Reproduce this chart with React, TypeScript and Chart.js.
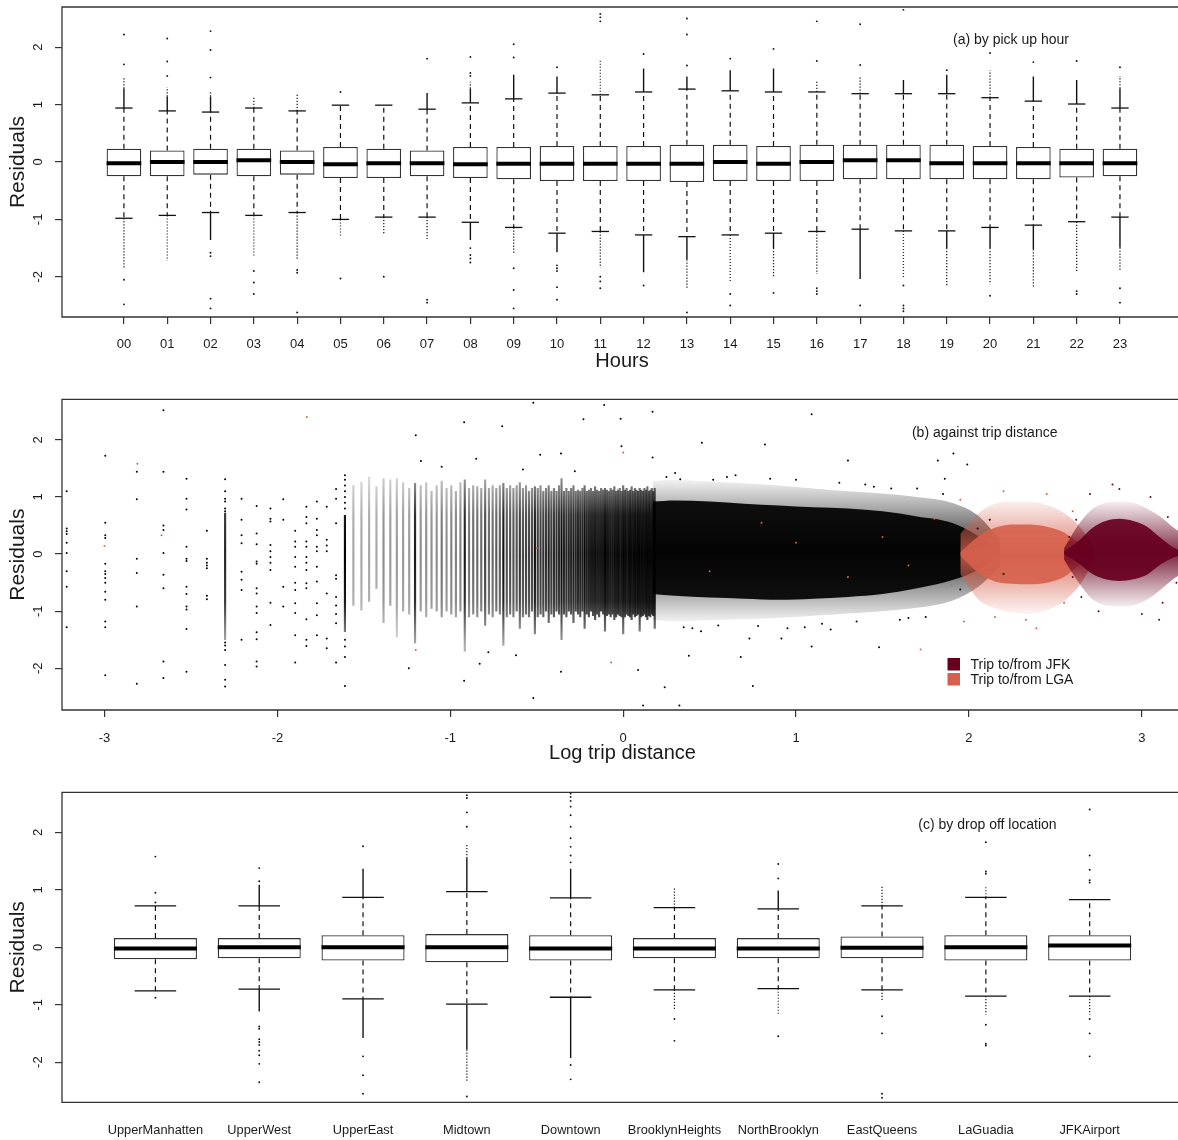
import React, { useEffect, useRef } from 'react';
import { Chart, registerables } from 'chart.js';

Chart.register(...registerables);

const FONT_FAMILY = '"Liberation Sans", Arial, Helvetica, sans-serif';
const INK = '#1a1a1a';
const FRAME = '#333333';
const WIDTH = 1178;
const JFK_COLOR = '#67001F';
const LGA_COLOR = '#D6604D';
const BLACK_RGB = '0,0,0';
const LGA_RGB = '214,96,77';
const JFK_RGB = '103,0,31';

const residualTicks = [-2, -1, 0, 1, 2];

// ---------------- (a) by pick up hour ----------------
const hourLabels = ['00','01','02','03','04','05','06','07','08','09','10','11','12','13','14','15','16','17','18','19','20','21','22','23'];
const hourLow = [-0.98,-0.93,-0.88,-0.93,-0.88,-1.00,-0.96,-0.96,-1.05,-1.14,-1.24,-1.21,-1.27,-1.30,-1.27,-1.24,-1.21,-1.17,-1.20,-1.20,-1.14,-1.10,-1.04,-0.96];
const hourQ1 = [-0.25,-0.25,-0.22,-0.25,-0.22,-0.28,-0.28,-0.25,-0.28,-0.30,-0.33,-0.33,-0.33,-0.35,-0.33,-0.33,-0.33,-0.30,-0.30,-0.30,-0.30,-0.30,-0.27,-0.25];
const hourMedian = [-0.02,0.00,0.00,0.03,0.00,-0.04,-0.02,-0.02,-0.04,-0.03,-0.03,-0.03,-0.03,-0.03,0.00,-0.03,0.00,0.03,0.03,-0.02,-0.02,-0.02,-0.02,-0.02];
const hourQ3 = [0.23,0.20,0.23,0.23,0.20,0.26,0.23,0.20,0.26,0.26,0.28,0.28,0.28,0.30,0.30,0.28,0.30,0.30,0.30,0.30,0.28,0.26,0.23,0.23];
const hourHigh = [0.94,0.89,0.87,0.94,0.89,0.99,0.99,0.92,1.03,1.10,1.20,1.17,1.22,1.27,1.24,1.22,1.22,1.19,1.19,1.19,1.12,1.06,1.01,0.94];
const hourUpSolid = [1.28,1.14,1.14,0.94,0.89,0.99,0.99,1.20,1.28,1.52,1.49,1.17,1.63,1.49,1.60,1.63,1.22,1.19,1.43,1.52,1.12,1.49,1.43,1.28];
const hourUpDotted = [1.47,1.30,1.23,1.12,1.18,0.99,0.99,1.20,1.40,1.52,1.49,1.78,1.63,1.49,1.60,1.63,1.40,1.49,1.43,1.52,1.60,1.49,1.43,1.50];
const hourDownSolid = [-0.98,-0.93,-1.36,-0.93,-0.88,-1.00,-0.96,-0.96,-1.36,-1.14,-1.57,-1.21,-1.92,-1.70,-1.27,-1.50,-1.21,-2.04,-1.20,-1.50,-1.50,-1.52,-1.04,-1.49];
const hourDownDotted = [-1.85,-1.72,-1.36,-1.66,-1.69,-1.28,-1.27,-1.34,-1.36,-1.60,-1.57,-1.84,-1.92,-2.19,-2.10,-2.00,-1.95,-2.04,-2.01,-2.16,-2.13,-2.19,-1.90,-1.90];
const hourOutliers = [
  [1.70, 2.22, -2.05, -2.48],
  [1.50, 1.75, 2.15],
  [1.47, 1.95, 2.28, -1.58, -1.64, -2.38, -2.55],
  [-1.90, -2.10, -2.30],
  [-1.88, -1.93, -2.62],
  [1.22, -2.03],
  [-2.00],
  [1.80, -2.40, -2.45],
  [1.50, 1.55, 1.83, -1.50, -1.62, -1.68, -1.75],
  [1.82, 2.05, -1.85, -2.23, -2.55],
  [1.65, -1.80, -1.85, -1.90, -2.18, -2.40],
  [2.45, 2.52, 2.58, -2.00, -2.08, -2.20],
  [1.88, -2.15],
  [1.68, 2.22, 2.50, -2.62],
  [1.80, -2.30, -2.50],
  [1.97, -2.28],
  [1.76, 2.45, -2.20, -2.25, -2.30],
  [1.69, 2.40, -2.50],
  [2.65, -2.15, -2.50, -2.55, -2.60],
  [1.60],
  [1.90, -2.33],
  [1.74],
  [1.76, -2.25, -2.30],
  [1.65, -2.20, -2.45],
];

// ---------------- (c) by drop off location ----------------
const zoneLabels = ['UpperManhatten','UpperWest','UpperEast','Midtown','Downtown','BrooklynHeights','NorthBrooklyn','EastQueens','LaGuadia','JFKAirport'];
const zoneLow = [-0.76,-0.73,-0.90,-0.99,-0.87,-0.74,-0.72,-0.74,-0.85,-0.85];
const zoneQ1 = [-0.21,-0.19,-0.23,-0.26,-0.23,-0.19,-0.19,-0.19,-0.23,-0.23];
const zoneMedian = [-0.02,0.00,0.00,0.00,-0.02,-0.02,-0.02,-0.01,0.00,0.03];
const zoneQ3 = [0.16,0.16,0.21,0.23,0.21,0.16,0.16,0.19,0.21,0.21];
const zoneHigh = [0.72,0.72,0.87,0.97,0.86,0.69,0.67,0.72,0.87,0.83];
const zoneUpSolid = [0.72,1.09,1.37,1.55,1.37,0.69,0.99,0.72,0.87,0.83];
const zoneUpDotted = [0.72,1.09,1.37,1.80,1.37,1.05,0.99,1.07,1.05,0.83];
const zoneDownSolid = [-0.76,-1.12,-1.58,-1.78,-1.93,-0.74,-0.72,-0.74,-0.85,-0.85];
const zoneDownDotted = [-0.76,-1.12,-1.58,-2.34,-1.93,-1.10,-1.17,-0.93,-1.17,-1.17];
const zoneOutliers = [
  [0.78, 0.95, 1.58, -0.88],
  [1.15, 1.38, -1.38, -1.42, -1.60, -1.65, -1.70, -1.80, -1.88, -2.03, -2.35],
  [1.76, -1.90, -2.23, -2.55],
  [2.10, 2.35, 2.60, 2.65, -2.60],
  [1.48, 1.60, 1.75, 1.90, 2.10, 2.30, 2.45, 2.55, 2.62, 2.68, -2.05, -2.30],
  [-1.25, -1.63],
  [1.20, 1.45, -1.55],
  [-1.20, -1.50, -2.55, -2.62],
  [1.28, 1.32, 1.83, -1.35, -1.68, -1.71],
  [1.13, 1.17, 1.35, 1.60, 2.40, -1.25, -1.50, -1.90],
];

// ---------------- (b) against trip distance ----------------
const distanceTicks = [-3, -2, -1, 0, 1, 2, 3];
// sparse short trips (miles) and the residuals seen in each column
const sparseMiles = [0.04,0.05,0.06,0.07,0.08,0.09,0.10,0.11,0.12,0.13,0.14,0.15,0.16,0.17,0.18,0.19,0.20];
const sparseResiduals = [
  [1.10,0.45,0.40,0.35,0.20,0.02,-0.30,-0.57,-1.28],
  [1.72,0.55,0.33,0.28,-0.17,-0.30,-0.35,-0.42,-0.50,-0.66,-0.80,-1.18,-1.28,-2.12],
  [1.44,0.96,-0.08,-0.33,-0.92,-2.27],
  [2.52,1.44,0.50,0.42,0.02,-0.36,-0.60,-1.88,-2.17],
  [1.32,0.97,0.78,0.13,-0.08,-0.12,-0.57,-0.70,-0.92,-0.97,-1.31,-2.06],
  [0.41,-0.08,-0.15,-0.20,-0.25,-0.73,-0.79],
  [1.31,1.10,0.97,0.92,0.80,0.75,-1.55,-1.60,-1.68,-1.94,-2.20,-2.32],
  [0.97,0.60,0.33,0.19,-0.31,-0.45,-0.63,-1.50],
  [0.84,0.36,0.17,-0.13,-0.17,-0.60,-0.69,-0.92,-1.03,-1.37,-1.49,-1.88,-1.97],
  [0.80,0.62,0.57,0.16,0.05,-0.05,-0.15,-0.28,-0.85,-1.24],
  [0.96,0.60,-0.57,-0.92],
  [0.41,0.22,0.13,-0.05,-0.22,-0.50,-0.63,-0.86,-1.03,-1.42,-1.90],
  [0.83,0.65,0.54,0.22,0.13,-0.05,-0.15,-0.28,-0.51,-0.60,-1.14,-1.50,-1.61],
  [0.92,0.62,0.42,0.33,0.13,0.05,-0.22,-0.48,-0.86,-1.07,-1.42],
  [0.83,0.25,0.15,0.05,-0.69,-1.48,-1.65],
  [1.14,0.97,0.54,-0.37,-0.43,-0.75,-0.90,-1.05,-1.21,-1.90],
  [1.38,1.30,1.20,1.10,1.00,0.90,0.80,-1.50,-1.62,-1.80,-2.31],
];
// dense columns of recorded distances (miles): residual range and darkness
const columnMiles = [
  0.10, 0.20,
  0.21,0.22,0.23,0.24,0.25,0.26,0.27,0.28,0.29,0.30,
  0.31,0.32,0.33,0.34,0.35,0.36,0.37,0.38,0.39,0.40,
  0.41,0.42,0.43,0.44,0.45,0.46,0.47,0.48,0.49,0.50,
  0.51,0.52,0.53,0.54,0.55,0.56,0.57,0.58,0.59,0.60,
  0.61,0.62,0.63,0.64,0.65,0.66,0.67,0.68,0.69,0.70,
  0.71,0.72,0.73,0.74,0.75,0.76,0.77,0.78,0.79,0.80,
  0.81,0.82,0.83,0.84,0.85,0.86,0.87,0.88,0.89,0.90,
  0.91,0.92,0.93,0.94,0.95,0.96,0.97,0.98,0.99,1.00,
  1.01,1.02,1.03,1.04,1.05,1.06,1.07,1.08,1.09,1.10,
  1.11,1.12,1.13,1.14,1.15,1.16,1.17,1.18,1.19,1.20,
];
const columnLow = [
  -1.50, -1.36,
  -0.90,-0.98,-0.83,-0.60,-1.20,-0.90,-1.45,-1.00,-1.05,-1.56,
  -1.00,-1.10,-0.95,-1.00,-1.10,-1.00,-1.05,-1.10,-1.00,-1.70,
  -1.10,-1.05,-1.10,-1.00,-1.25,-1.05,-1.10,-1.00,-1.05,-1.60,
  -1.10,-1.05,-1.10,-1.00,-1.30,-1.10,-1.05,-1.10,-1.00,-1.40,
  -1.10,-1.05,-1.10,-1.00,-1.20,-1.05,-1.10,-1.00,-1.05,-1.50,
  -1.05,-1.10,-1.00,-1.05,-1.20,-1.00,-1.05,-1.10,-1.00,-1.30,
  -1.05,-1.10,-1.00,-1.08,-1.15,-1.05,-1.10,-1.00,-1.05,-1.35,
  -1.08,-1.05,-1.10,-1.05,-1.15,-1.10,-1.05,-1.08,-1.10,-1.40,
  -1.10,-1.05,-1.08,-1.10,-1.15,-1.05,-1.10,-1.08,-1.05,-1.35,
  -1.10,-1.08,-1.05,-1.10,-1.15,-1.08,-1.10,-1.05,-1.08,-1.30,
];
const columnHigh = [
  0.72, 0.68,
  1.20,1.26,1.35,1.18,1.32,1.30,1.32,1.25,1.15,1.24,
  1.20,1.25,1.10,1.20,1.28,1.15,1.20,1.10,1.25,1.30,
  1.15,1.20,1.18,1.15,1.30,1.15,1.20,1.15,1.20,1.24,
  1.15,1.20,1.15,1.20,1.25,1.15,1.20,1.10,1.15,1.18,
  1.15,1.20,1.10,1.15,1.20,1.10,1.15,1.10,1.20,1.32,
  1.10,1.15,1.10,1.15,1.20,1.10,1.12,1.10,1.15,1.20,
  1.10,1.12,1.15,1.10,1.18,1.12,1.10,1.15,1.12,1.15,
  1.12,1.10,1.15,1.12,1.18,1.10,1.12,1.15,1.10,1.20,
  1.12,1.15,1.10,1.12,1.18,1.10,1.15,1.12,1.10,1.15,
  1.12,1.10,1.15,1.12,1.18,1.10,1.12,1.15,1.10,1.15,
];
const columnShade = [
  0.85, 1.00,
  0.35,0.35,0.35,0.35,0.45,0.40,0.40,0.40,0.40,0.90,
  0.45,0.45,0.45,0.45,0.55,0.45,0.50,0.50,0.50,0.90,
  0.55,0.60,0.60,0.60,0.75,0.60,0.60,0.65,0.65,0.95,
  0.70,0.70,0.70,0.70,0.80,0.72,0.75,0.75,0.75,0.95,
  0.80,0.80,0.82,0.82,0.88,0.82,0.85,0.85,0.85,0.98,
  0.88,0.88,0.88,0.88,0.92,0.88,0.90,0.90,0.90,1.00,
  0.92,0.92,0.92,0.92,0.95,0.92,0.92,0.92,0.92,1.00,
  0.95,0.95,0.95,0.95,0.97,0.95,0.95,0.95,0.95,1.00,
  0.95,0.95,0.97,0.97,0.97,0.97,0.97,0.97,0.97,1.00,
  0.97,0.97,0.97,0.97,1.00,0.97,0.97,0.97,0.97,1.00,
];
// dense cloud of ordinary trips (log distance knots)
const cloudX = [0.17, 0.30, 0.50, 0.70, 0.90, 1.10, 1.30, 1.50, 1.70, 1.90, 2.05, 2.18];
const cloudHaloHigh = [1.28, 1.30, 1.27, 1.24, 1.20, 1.15, 1.10, 1.06, 1.00, 0.90, 0.68, 0.25];
const cloudCoreHigh = [0.92, 0.94, 0.92, 0.88, 0.85, 0.82, 0.80, 0.75, 0.66, 0.55, 0.32, 0.00];
const cloudCoreLow = [-0.70, -0.73, -0.76, -0.78, -0.80, -0.78, -0.75, -0.70, -0.60, -0.46, -0.28, 0.00];
const cloudHaloLow = [-1.15, -1.18, -1.16, -1.14, -1.12, -1.08, -1.04, -1.00, -0.94, -0.82, -0.58, -0.22];
// LaGuardia trips
const lgaX = [1.95, 2.05, 2.15, 2.25, 2.35, 2.45, 2.55, 2.65, 2.72];
const lgaHaloHigh = [0.35, 0.70, 0.88, 0.92, 0.92, 0.86, 0.72, 0.45, 0.12];
const lgaCoreHigh = [0.03, 0.30, 0.46, 0.52, 0.52, 0.48, 0.38, 0.16, 0.00];
const lgaCoreLow = [-0.03, -0.32, -0.48, -0.52, -0.53, -0.50, -0.40, -0.16, 0.00];
const lgaHaloLow = [-0.35, -0.78, -0.95, -1.02, -1.05, -0.98, -0.82, -0.50, -0.12];
// JFK trips
const jfkX = [2.55, 2.63, 2.71, 2.79, 2.87, 2.95, 3.03, 3.11, 3.19, 3.27];
const jfkHaloHigh = [0.10, 0.50, 0.78, 0.90, 0.92, 0.90, 0.80, 0.65, 0.45, 0.30];
const jfkCoreHigh = [0.04, 0.22, 0.45, 0.58, 0.62, 0.58, 0.48, 0.28, 0.10, 0.03];
const jfkCoreLow = [0.00, -0.15, -0.34, -0.44, -0.47, -0.44, -0.36, -0.18, -0.05, 0.00];
const jfkHaloLow = [-0.10, -0.48, -0.78, -0.90, -0.92, -0.90, -0.80, -0.62, -0.42, -0.28];
// scattered single trips
const strayBlackX = [-1.20,-1.17,-1.05,-0.92,-0.85,-0.70,-0.58,-0.52,-0.48,-0.36,-0.28,-0.23,-0.11,-0.015,-0.01,0.17,0.17,0.33,0.455,0.82,1.09,1.30,1.82,1.91,1.99,1.86,-1.24,-0.92,-0.83,-0.78,-0.62,-0.52,-0.36,0.086,0.115,0.24,0.325,0.38,0.68,0.75,0.73,0.915,1.09,1.48,1.20,0.25,0.40,0.60,0.95,1.40,1.60,1.70,1.75,1.00,0.55,2.05,2.20,2.12,1.95,0.30,0.45,0.65,0.85,1.05,1.25,1.45,1.65,1.85,0.35,0.52,0.78,1.15,1.35,1.55];
const strayBlackY = [2.08,1.63,1.53,2.31,1.67,2.24,1.48,2.65,1.74,1.76,1.45,2.36,2.61,2.37,1.89,2.49,1.69,1.31,1.95,1.92,2.45,1.64,1.64,1.76,1.57,1.32,-2.00,-2.22,-1.92,-1.72,-1.77,-2.52,-2.06,-2.03,-2.65,-2.33,-2.65,-1.78,-1.80,-2.31,-1.48,-1.48,-1.62,-1.63,-1.32,1.35,-1.30,1.35,-1.30,1.22,-1.15,1.15,-1.10,1.30,-1.25,0.45,-0.35,0.60,-0.62,1.42,-1.35,1.38,1.32,-1.28,1.25,1.18,-1.12,1.05,-1.28,1.30,-1.26,-1.22,-1.18,1.15];
const strayLgaX = [-1.83,-1.20,-0.07,0.00,1.72,2.39,1.97,2.15,2.33,2.20,2.45,1.95,-0.50,0.50,1.00,1.30,1.50,0.80,1.65,-2.81,-2.67,-3.00,2.60,2.55,1.90,1.80];
const strayLgaY = [2.40,-1.68,-1.90,1.78,-1.67,-1.30,-1.18,-1.10,-1.15,1.10,1.05,0.95,0.10,-0.30,0.20,-0.40,0.30,0.55,-0.20,1.58,0.33,0.14,0.75,-0.85,-0.55,0.62];
const strayJfkX = [2.83,2.87,3.10,2.62,2.65,3.15,3.20,2.75,3.05,2.58,2.70,3.00,2.60,3.12];
const strayJfkY = [1.22,1.14,-1.15,0.60,-0.75,0.65,-0.50,-1.00,1.00,0.30,1.05,-1.05,-0.40,-0.85];

// ---------------- helpers ----------------
type BoxSpec = {
  labels: string[]; low: number[]; q1: number[]; med: number[]; q3: number[]; high: number[];
  upSolid: number[]; upDotted: number[]; downSolid: number[]; downDotted: number[]; outliers: number[][];
};
type Decor = {
  xTitle?: { text: string; x: number; y: number };
  title: { text: string; x: number; y: number };
  legend?: { x: number; y: number; items: { text: string; color: string }[] };
};
type Frame = { height: number; top: number; bottom: number; xMin: number; xMax: number; tickPad: number; drawXTicks: boolean; labelSize: number; yMin: number; yMax: number };

function segments(from: number[], to: number[]) {
  const out: any[] = [];
  from.forEach((f, i) => {
    if (Math.abs(to[i] - f) > 1e-6) out.push({ x: i, y: f }, { x: i, y: to[i] }, { x: i, y: null });
  });
  return out;
}

function decorPlugin(d: Decor) {
  return {
    id: 'decor',
    afterDraw(chart: any) {
      const { ctx, chartArea: a, scales } = chart;
      ctx.save();
      ctx.strokeStyle = FRAME;
      ctx.lineWidth = 1.3;
      ctx.beginPath();
      ctx.moveTo(a.right + 20, a.top);
      ctx.lineTo(a.left, a.top);
      ctx.lineTo(a.left, a.bottom);
      ctx.lineTo(a.right + 20, a.bottom);
      ctx.stroke();
      ctx.fillStyle = INK;
      ctx.textAlign = 'center';
      ctx.textBaseline = 'middle';
      ctx.font = `13px ${FONT_FAMILY}`;
      for (const t of scales.y.ticks) {
        const py = scales.y.getPixelForValue(t.value);
        ctx.save();
        ctx.translate(38, py);
        ctx.rotate(-Math.PI / 2);
        ctx.fillText(String(t.value), 0, 0);
        ctx.restore();
      }
      ctx.font = `21px ${FONT_FAMILY}`;
      ctx.save();
      ctx.translate(18.5, (a.top + a.bottom) / 2);
      ctx.rotate(-Math.PI / 2);
      ctx.fillText('Residuals', 0, 0);
      ctx.restore();
      if (d.xTitle) {
        ctx.font = `20px ${FONT_FAMILY}`;
        ctx.fillText(d.xTitle.text, d.xTitle.x, d.xTitle.y);
      }
      ctx.font = `14px ${FONT_FAMILY}`;
      ctx.fillText(d.title.text, d.title.x, d.title.y);
      if (d.legend) {
        ctx.textAlign = 'left';
        d.legend.items.forEach((it, i) => {
          const y = d.legend!.y + i * 15;
          ctx.fillStyle = it.color;
          ctx.fillRect(d.legend!.x, y, 12.5, 12.5);
          ctx.fillStyle = INK;
          ctx.fillText(it.text, d.legend!.x + 23, y + 6.8);
        });
      }
      ctx.restore();
    },
  };
}

function scalesFor(f: Frame, xTickValues: number[], xLabel: (v: number) => string) {
  const grid = { display: true, offset: false, drawOnChartArea: false, drawTicks: true, tickLength: 7, color: FRAME, lineWidth: 1.2 };
  return {
    x: {
      type: 'linear', min: f.xMin, max: f.xMax, offset: false,
      grid: { ...grid, drawTicks: f.drawXTicks },
      border: { display: false },
      ticks: { autoSkip: false, maxRotation: 0, minRotation: 0, padding: f.tickPad, color: INK, font: { family: FONT_FAMILY, size: f.labelSize }, callback: (v: number) => xLabel(v) },
      afterBuildTicks: (sc: any) => { sc.ticks = xTickValues.map((v) => ({ value: v })); },
      afterFit: (sc: any) => { sc.height = f.height - f.bottom; sc.paddingLeft = 0; sc.paddingRight = 0; },
    },
    y: {
      type: 'linear', min: f.yMin, max: f.yMax,
      grid,
      border: { display: false },
      ticks: { display: false },
      afterBuildTicks: (sc: any) => { sc.ticks = residualTicks.map((v) => ({ value: v })); },
      afterFit: (sc: any) => { sc.width = 62; sc.paddingTop = 0; sc.paddingBottom = 0; },
    },
  };
}

function baseOptions(f: Frame, scales: any) {
  return {
    animation: false, responsive: false, devicePixelRatio: 1, events: [],
    layout: { autoPadding: false, padding: { top: f.top, left: 0, right: 0, bottom: 0 } },
    plugins: { legend: { display: false }, tooltip: { enabled: false } },
    scales,
  };
}

function makeBoxChart(canvas: HTMLCanvasElement, s: BoxSpec, f: Frame, d: Decor) {
  const idx = s.labels.map((_, i) => i);
  const spacing = (chart: any) => {
    const x = chart.scales.x;
    return Math.abs(x.getPixelForValue(1) - x.getPixelForValue(0));
  };
  const datasets: any[] = [
    { type: 'scatter', label: 'median', data: idx.map((i) => ({ x: i, y: s.med[i] })), pointStyle: 'line', pointRadius: (c: any) => 0.4 * spacing(c.chart), pointBorderColor: '#000', pointBorderWidth: 4, order: 0 },
    { type: 'bar', label: 'box', data: idx.map((i) => ({ x: i, y: [s.q1[i], s.q3[i]] })), backgroundColor: '#ffffff', borderColor: FRAME, borderWidth: 1.3, borderSkipped: false, barPercentage: 0.8, categoryPercentage: 1, grouped: false, order: 1 },
    { type: 'scatter', label: 'staples', data: [...idx.map((i) => ({ x: i, y: s.high[i] })), ...idx.map((i) => ({ x: i, y: s.low[i] }))], pointStyle: 'line', pointRadius: (c: any) => 0.2 * spacing(c.chart), pointBorderColor: '#111', pointBorderWidth: 1.3, order: 2 },
    { type: 'line', label: 'whiskers', data: [...segments(s.q3, s.high), ...segments(s.q1, s.low)], borderColor: '#111', borderWidth: 1.2, borderDash: [5, 4], pointRadius: 0, fill: false, order: 3 },
    { type: 'line', label: 'dense outliers', data: [...segments(s.high, s.upSolid), ...segments(s.low, s.downSolid)], borderColor: '#111', borderWidth: 1.4, pointRadius: 0, fill: false, order: 4 },
    { type: 'line', label: 'dotted outliers', data: [...segments(s.upSolid, s.upDotted), ...segments(s.downSolid, s.downDotted)], borderColor: '#222', borderWidth: 1.3, borderDash: [1.2, 1.8], pointRadius: 0, fill: false, order: 5 },
    { type: 'scatter', label: 'outliers', data: s.outliers.flatMap((vals, i) => vals.map((v) => ({ x: i, y: v }))), pointRadius: 0.95, pointBorderWidth: 0, pointBackgroundColor: '#111', order: 6 },
  ];
  return new Chart(canvas, {
    type: 'bar',
    data: { datasets },
    options: baseOptions(f, scalesFor(f, idx, (v) => s.labels[v] ?? '')) as any,
    plugins: [decorPlugin(d)],
  } as any);
}

// vertical fade used for the speckled edge of a point cloud
function haloFill(rgb: string, top: number, bottom: number, peak: number) {
  return (c: any) => {
    const chart = c.chart;
    if (!chart.chartArea) return `rgba(${rgb},${peak * 0.5})`;
    const y = chart.scales.y;
    const g = chart.ctx.createLinearGradient(0, y.getPixelForValue(top), 0, y.getPixelForValue(bottom));
    g.addColorStop(0, `rgba(${rgb},0.04)`);
    g.addColorStop(0.22, `rgba(${rgb},${peak * 0.45})`);
    g.addColorStop(0.5, `rgba(${rgb},${peak})`);
    g.addColorStop(0.78, `rgba(${rgb},${peak * 0.45})`);
    g.addColorStop(1, `rgba(${rgb},0.04)`);
    return g;
  };
}

function envelope(label: string, xs: number[], upper: number[], lower: number[], color: any, order: number) {
  const line = { borderColor: 'transparent', borderWidth: 0, pointRadius: 0, tension: 0.4, cubicInterpolationMode: 'monotone', order };
  return [
    { type: 'line', label, data: xs.map((x, i) => ({ x, y: upper[i] })), fill: '+1', backgroundColor: color, ...line },
    { type: 'line', label: label + ' lower', data: xs.map((x, i) => ({ x, y: lower[i] })), fill: false, ...line },
  ];
}

function makeScatterChart(canvas: HTMLCanvasElement, f: Frame, d: Decor) {
  const gradCache = new Map<string, CanvasGradient>();
  const columnColor = (c: any) => {
    const chart = c.chart;
    if (!chart.chartArea || c.dataIndex === undefined) return 'rgba(0,0,0,0.6)';
    const s = columnShade[c.dataIndex] ?? 0.5;
    const key = s.toFixed(2);
    let g = gradCache.get(key);
    if (!g) {
      const y = chart.scales.y;
      g = chart.ctx.createLinearGradient(0, y.getPixelForValue(1.45), 0, y.getPixelForValue(-1.6)) as CanvasGradient;
      g.addColorStop(0, `rgba(0,0,0,${0.35 * s})`);
      g.addColorStop(0.25, `rgba(0,0,0,${0.9 * s})`);
      g.addColorStop(0.48, `rgba(0,0,0,${s})`);
      g.addColorStop(0.75, `rgba(0,0,0,${0.9 * s})`);
      g.addColorStop(1, `rgba(0,0,0,${0.35 * s})`);
      gradCache.set(key, g);
    }
    return g;
  };
  const dot = { pointRadius: 1, pointBorderWidth: 0 };
  const datasets: any[] = [
    { type: 'bar', label: 'columns', data: columnMiles.map((m, i) => ({ x: Math.log(m), y: [columnLow[i], columnHigh[i]] })), backgroundColor: columnColor, borderWidth: 0, barThickness: 1.5, grouped: false, order: 20 },
    { type: 'scatter', label: 'short trips', data: sparseMiles.flatMap((m, i) => sparseResiduals[i].map((r) => ({ x: Math.log(m), y: r }))), pointBackgroundColor: '#000', ...dot, order: 19 },
    ...envelope('trips halo', cloudX, cloudHaloHigh, cloudHaloLow, haloFill(BLACK_RGB, 1.32, -1.2, 0.8), 18),
    ...envelope('trips', cloudX, cloudCoreHigh, cloudCoreLow, 'rgba(0,0,0,0.92)', 17),
    ...envelope('LGA halo', lgaX, lgaHaloHigh, lgaHaloLow, haloFill(LGA_RGB, 1.0, -1.08, 0.85), 16),
    ...envelope('Trip to/from LGA', lgaX, lgaCoreHigh, lgaCoreLow, 'rgba(214,96,77,0.9)', 15),
    ...envelope('JFK halo', jfkX, jfkHaloHigh, jfkHaloLow, haloFill(JFK_RGB, 0.95, -0.95, 0.85), 14),
    ...envelope('Trip to/from JFK', jfkX, jfkCoreHigh, jfkCoreLow, 'rgba(103,0,31,0.92)', 13),
    { type: 'scatter', label: 'stray', data: strayBlackX.map((x, i) => ({ x, y: strayBlackY[i] })), pointBackgroundColor: '#000', ...dot, order: 2 },
    { type: 'scatter', label: 'stray LGA', data: strayLgaX.map((x, i) => ({ x, y: strayLgaY[i] })), pointBackgroundColor: LGA_COLOR, ...dot, order: 1 },
    { type: 'scatter', label: 'stray JFK', data: strayJfkX.map((x, i) => ({ x, y: strayJfkY[i] })), pointBackgroundColor: JFK_COLOR, ...dot, order: 0 },
  ];
  return new Chart(canvas, {
    type: 'bar',
    data: { datasets },
    options: baseOptions(f, scalesFor(f, distanceTicks, (v) => String(v))) as any,
    plugins: [decorPlugin(d)],
  } as any);
}

const frameA: Frame = { height: 390, top: 7, bottom: 317, xMin: -1.43, xMax: 24.34, tickPad: 12.2, drawXTicks: true, labelSize: 13, yMin: -2.7, yMax: 2.7 };
const frameB: Frame = { height: 390, top: 9.3, bottom: 320, xMin: -3.246, xMax: 3.209, tickPad: 13.2, drawXTicks: true, labelSize: 13, yMin: -2.73, yMax: 2.71 };
const frameC: Frame = { height: 360, top: 12.3, bottom: 322.3, xMin: -0.9, xMax: 9.851, tickPad: 20.2, drawXTicks: false, labelSize: 12.8, yMin: -2.7, yMax: 2.7 };

export default function App() {
  const refA = useRef<HTMLCanvasElement>(null);
  const refB = useRef<HTMLCanvasElement>(null);
  const refC = useRef<HTMLCanvasElement>(null);

  useEffect(() => {
    const charts = [
      makeBoxChart(refA.current!, {
        labels: hourLabels, low: hourLow, q1: hourQ1, med: hourMedian, q3: hourQ3, high: hourHigh,
        upSolid: hourUpSolid, upDotted: hourUpDotted, downSolid: hourDownSolid, downDotted: hourDownDotted, outliers: hourOutliers,
      }, frameA, { xTitle: { text: 'Hours', x: 622, y: 361 }, title: { text: '(a) by pick up hour', x: 1011, y: 40 } }),
      makeScatterChart(refB.current!, frameB, {
        xTitle: { text: 'Log trip distance', x: 622.5, y: 363 },
        title: { text: '(b) against trip distance', x: 984.7, y: 42.7 },
        legend: { x: 947.5, y: 268, items: [{ text: 'Trip to/from JFK', color: JFK_COLOR }, { text: 'Trip to/from LGA', color: LGA_COLOR }] },
      }),
      makeBoxChart(refC.current!, {
        labels: zoneLabels, low: zoneLow, q1: zoneQ1, med: zoneMedian, q3: zoneQ3, high: zoneHigh,
        upSolid: zoneUpSolid, upDotted: zoneUpDotted, downSolid: zoneDownSolid, downDotted: zoneDownDotted, outliers: zoneOutliers,
      }, frameC, { title: { text: '(c) by drop off location', x: 987.5, y: 45 } }),
    ];
    return () => charts.forEach((c) => c.destroy());
  }, []);

  const canvasStyle = (top: number, h: number): React.CSSProperties => ({ position: 'absolute', left: 0, top, width: WIDTH, height: h, display: 'block' });
  return (
    <div style={{ position: 'absolute', left: 0, top: 0, width: WIDTH, height: 1140, background: '#ffffff', overflow: 'hidden' }}>
      <canvas ref={refA} width={WIDTH} height={390} style={canvasStyle(0, 390)} />
      <canvas ref={refB} width={WIDTH} height={390} style={canvasStyle(390, 390)} />
      <canvas ref={refC} width={WIDTH} height={360} style={canvasStyle(780, 360)} />
    </div>
  );
}
